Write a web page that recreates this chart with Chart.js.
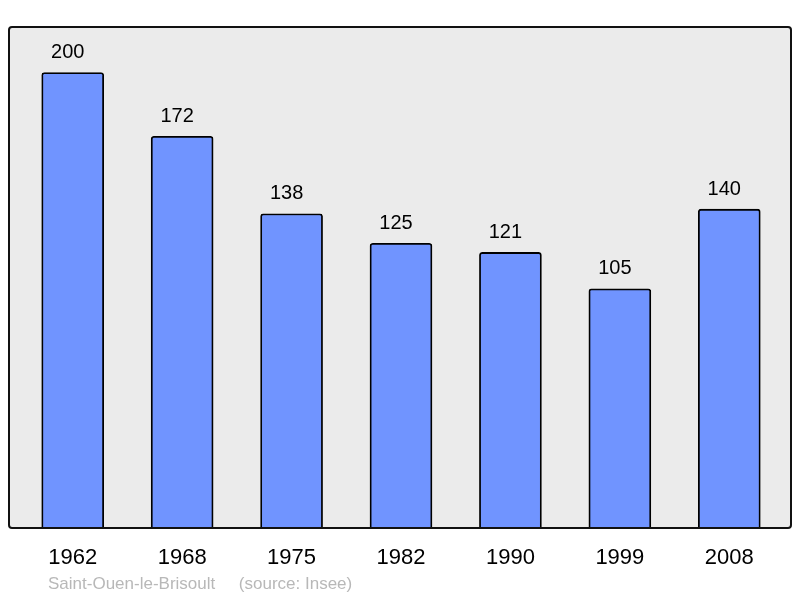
<!DOCTYPE html>
<html><head><meta charset="utf-8">
<script src="https://cdn.jsdelivr.net/npm/chart.js@4/dist/chart.umd.min.js"></script>
<style>html,body{margin:0;padding:0;background:#fff;}canvas{display:block;}</style>
</head><body>
<canvas id="c" width="800" height="598"></canvas>
<script>
const years = ["1962","1968","1975","1982","1990","1999","2008"];
const population = [200,172,138,125,121,105,140];
const sourceText = "Saint-Ouen-le-Brisoult     (source: Insee)";

const frame = {
  id: 'frame',
  beforeDraw(chart) {
    const ctx = chart.ctx, a = chart.chartArea;
    const l = a.left - 9, r = a.right + 7, t = a.top, b = a.bottom;
    ctx.save();
    ctx.beginPath();
    ctx.roundRect(l, t, r - l, b - t, 3);
    ctx.fillStyle = '#ebebeb';
    ctx.fill();
    ctx.restore();
  },
  afterDatasetsDraw(chart) {
    const ctx = chart.ctx, a = chart.chartArea;
    const l = a.left - 9, r = a.right + 7, t = a.top, b = a.bottom;
    ctx.save();
    ctx.beginPath();
    ctx.roundRect(l, t, r - l, b - t, 3);
    ctx.lineWidth = 2;
    ctx.strokeStyle = '#111';
    ctx.stroke();
    const meta = chart.getDatasetMeta(0);
    ctx.fillStyle = '#000';
    ctx.font = '20px "Liberation Sans", Arial, sans-serif';
    ctx.textAlign = 'center';
    ctx.textBaseline = 'middle';
    meta.data.forEach((el, i) => {
      ctx.fillText(String(population[i]), el.x - 5, el.y - 20);
    });
    ctx.fillStyle = '#b8b8b8';
    ctx.font = '17px "Liberation Sans", Arial, sans-serif';
    ctx.textAlign = 'left';
    ctx.fillText(sourceText, 48, 584);
    ctx.restore();
  }
};

new Chart(document.getElementById('c'), {
  type: 'bar',
  data: {
    labels: years,
    datasets: [{
      data: population,
      backgroundColor: '#7094ff',
      borderColor: '#000',
      borderWidth: 1.8,
      borderRadius: 3,
      borderSkipped: 'bottom',
      barThickness: 62,
      categoryPercentage: 1
    }]
  },
  options: {
    responsive: false,
    animation: false,
    layout: { padding: { left: 18, right: 16, top: 27, bottom: 0 } },
    plugins: { legend: { display: false }, tooltip: { enabled: false } },
    scales: {
      x: {
        grid: { display: false, drawTicks: false },
        border: { display: false },
        ticks: { color: '#000', font: { size: 22, family: '"Liberation Sans", Arial, sans-serif' }, padding: 17, maxRotation: 0 },
        afterFit(s) { s.height = 70; }
      },
      y: {
        display: false,
        min: 0, max: 220
      }
    }
  },
  plugins: [frame]
});
</script>
</body></html>
